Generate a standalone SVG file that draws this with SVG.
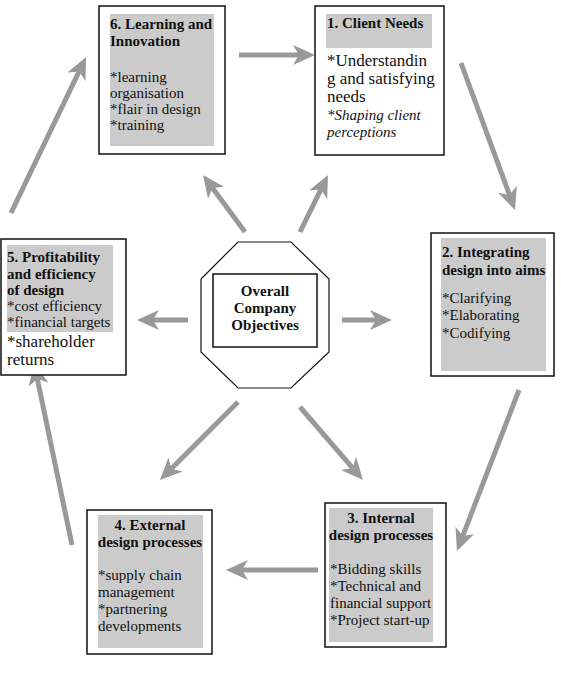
<svg xmlns="http://www.w3.org/2000/svg" width="561" height="678" viewBox="0 0 561 678">
<defs>
<style>
.box{fill:#fff;stroke:#111;stroke-width:1.5}
.shade{fill:#cbcbcb}
.t{font-family:"Liberation Serif","Times New Roman",serif;font-size:15px;fill:#111}
.b{font-weight:bold}
.i{font-style:italic}
.big{font-size:17px}
.c{text-anchor:middle}
.arr{stroke:#999;stroke-width:5;fill:none;marker-end:url(#ah)}
</style>
<marker id="ah" markerUnits="userSpaceOnUse" markerWidth="22" markerHeight="20" viewBox="0 0 22 20" refX="6" refY="10" orient="auto">
<path d="M0,0 L22,10 L0,20 L6,10 z" fill="#999"/>
</marker>
</defs>
<g id="connectors">
<line class="arr" x1="239" y1="55" x2="299" y2="55"/>
<line class="arr" x1="461" y1="63" x2="509.5" y2="195"/>
<line class="arr" x1="519" y1="390" x2="462.7" y2="536.1"/>
<line class="arr" x1="318" y1="570" x2="242" y2="570"/>
<line class="arr" x1="72" y1="545" x2="37.3" y2="378.7"/>
<line class="arr" x1="11" y1="213" x2="79.1" y2="71.4"/>
<line class="arr" x1="245" y1="232" x2="212.5" y2="187.9"/>
<line class="arr" x1="300" y1="232" x2="320.9" y2="189.4"/>
<line class="arr" x1="188" y1="320" x2="153" y2="320"/>
<line class="arr" x1="342" y1="320" x2="376" y2="320"/>
<line class="arr" x1="238" y1="402" x2="171.3" y2="468.7"/>
<line class="arr" x1="300" y1="407" x2="352.5" y2="467.9"/>
</g>
<g id="center">
<polygon points="238,242 291,242 329,279 329,352 291,388 238,388 201,352 201,279" fill="#fff" stroke="#111" stroke-width="1.2"/>
<rect x="213" y="274" width="104" height="73" fill="#fff" stroke="#111" stroke-width="1.5"/>
<text class="t b c" x="265" y="296">Overall</text>
<text class="t b c" x="265" y="313">Company</text>
<text class="t b c" x="265" y="330">Objectives</text>
</g>
<g id="node6">
<rect class="box" x="99" y="6" width="126" height="148"/>
<rect class="shade" x="110" y="14" width="104" height="132"/>
<text class="t b" x="110" y="29">6. Learning and</text>
<text class="t b" x="110" y="46">Innovation</text>
<text class="t" x="110" y="82">*learning</text>
<text class="t" x="110" y="98">organisation</text>
<text class="t" x="110" y="114">*flair in design</text>
<text class="t" x="110" y="130">*training</text>
</g>
<g id="node1">
<rect class="box" x="315" y="6" width="129" height="149"/>
<rect class="shade" x="326" y="14" width="106" height="34"/>
<text class="t b" x="327" y="28" font-size="16">1. Client Needs</text>
<text class="t big" x="327" y="66">*Understandin</text>
<text class="t big" x="327" y="84">g and satisfying</text>
<text class="t big" x="327" y="102">needs</text>
<text class="t i" x="327" y="120">*Shaping client</text>
<text class="t i" x="327" y="137">perceptions</text>
</g>
<g id="node2">
<rect class="box" x="431" y="233" width="123" height="143"/>
<rect class="shade" x="441" y="238" width="105" height="133"/>
<text class="t b" x="442" y="257">2. Integrating</text>
<text class="t b" x="442" y="275">design into aims</text>
<text class="t" x="442" y="303">*Clarifying</text>
<text class="t" x="442" y="320">*Elaborating</text>
<text class="t" x="442" y="338">*Codifying</text>
</g>
<g id="node5">
<rect class="box" x="1" y="239" width="125" height="136"/>
<rect class="shade" x="7" y="245" width="106" height="87"/>
<text class="t b" x="7" y="262">5. Profitability</text>
<text class="t b" x="7" y="279">and efficiency</text>
<text class="t b" x="7" y="295">of design</text>
<text class="t" x="7" y="311">*cost efficiency</text>
<text class="t" x="7" y="327">*financial targets</text>
<text class="t big" x="7" y="347">*shareholder</text>
<text class="t big" x="7" y="365">returns</text>
</g>
<g id="node4">
<rect class="box" x="87" y="510" width="125" height="144"/>
<rect class="shade" x="98" y="515" width="105" height="133"/>
<text class="t b c" x="150" y="530">4. External</text>
<text class="t b c" x="150" y="547">design processes</text>
<text class="t" x="98" y="580">*supply chain</text>
<text class="t" x="98" y="597">management</text>
<text class="t" x="98" y="614">*partnering</text>
<text class="t" x="98" y="631">developments</text>
</g>
<g id="node3">
<rect class="box" x="325" y="503" width="121" height="144"/>
<rect class="shade" x="329" y="508" width="104" height="134"/>
<text class="t b c" x="381" y="523">3. Internal</text>
<text class="t b c" x="381" y="540">design processes</text>
<text class="t" x="330" y="574">*Bidding skills</text>
<text class="t" x="330" y="591">*Technical and</text>
<text class="t" x="330" y="608">financial support</text>
<text class="t" x="330" y="625">*Project start-up</text>
</g>
</svg>
